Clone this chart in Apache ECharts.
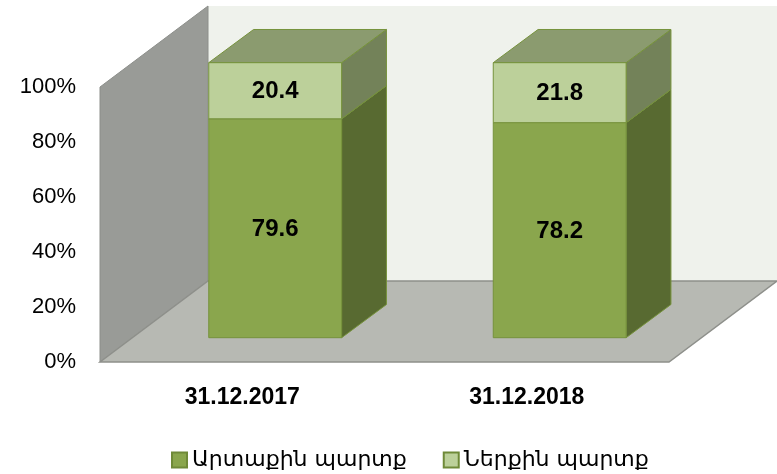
<!DOCTYPE html>
<html>
<head>
<meta charset="utf-8">
<script src="https://cdn.jsdelivr.net/npm/echarts@6/dist/echarts.min.js"></script>
<style>
  html, body { margin: 0; padding: 0; background: #fff; }
  #chart { width: 777px; height: 474px; }
</style>
</head>
<body>
<div id="chart"></div>
<script>
const categories = ['31.12.2017', '31.12.2018'];
const externalDebt = [79.6, 78.2];
const internalDebt = [20.4, 21.8];
const seriesNames = ['Արտաքին պարտք', 'Ներքին պարտք'];
const yTicks = [0, 20, 40, 60, 80, 100];

// 3d depth of the box (px)
const DX = 108, DY = -81;

function wallItem(params, api) {
  let cs = params.coordSys;
  let x = cs.x, y = cs.y, w = cs.width, h = cs.height, b = y + h;
  return {
    type: 'group',
    children: [
      {type: 'rect', shape: {x: x + DX, y: y + DY, width: w, height: h},
        style: {fill: '#EFF2EC'}},
      {type: 'polygon', shape: {points: [[x, y], [x + DX, y + DY], [x + DX, b + DY], [x, b]]},
        style: {fill: '#999B97', stroke: '#8C8E8A', lineWidth: 1}},
      {type: 'polygon', shape: {points: [[x, b], [x + DX, b + DY], [x + w + DX, b + DY], [x + w, b]]},
        style: {fill: '#B7B9B3', stroke: '#8E908B', lineWidth: 1.5}}
    ]
  };
}

function barItem(front, side, top) {
  return function (params, api) {
    let cat = api.value(0), lo = api.value(1), hi = api.value(2);
    let pLo = api.coord([cat, lo]), pHi = api.coord([cat, hi]);
    let w = api.size([1, 0])[0] * 0.467;
    let sx = DX * 0.305, sy = DY * 0.3;
    let bx = DX * 0.415, by = DY * 0.41;
    let x0 = pLo[0] - w / 2 + sx, x1 = x0 + w;
    let yb = pLo[1] + sy, yt = pHi[1] + sy;
    let line = {stroke: '#76923C', lineWidth: 1};
    return {
      type: 'group',
      children: [
        {type: 'polygon', shape: {points: [[x1, yb], [x1 + bx, yb + by], [x1 + bx, yt + by], [x1, yt]]},
          style: Object.assign({fill: side}, line)},
        {type: 'polygon', shape: {points: [[x0, yt], [x0 + bx, yt + by], [x1 + bx, yt + by], [x1, yt]]},
          style: Object.assign({fill: top}, line)},
        {type: 'rect', shape: {x: x0, y: yt, width: w, height: yb - yt},
          style: Object.assign({fill: front}, line)},
        {type: 'text', x: (x0 + x1) / 2, y: (yt + yb) / 2 + 1,
          style: {text: api.value(3).toFixed(1), align: 'center', verticalAlign: 'middle',
            fill: '#000', font: 'bold 24px "Liberation Sans", Arial, sans-serif'}}
      ]
    };
  };
}

let chartDom = document.getElementById('chart');
let myChart = echarts.init(chartDom);
let option = {
  animation: false,
  grid: {left: 100, right: 108, top: 87, bottom: 112},
  legend: {
    data: seriesNames,
    left: 166,
    top: 444,
    icon: 'rect',
    itemWidth: 15,
    itemHeight: 15,
    itemGap: 36,
    textStyle: {fontSize: 22, color: '#000', fontFamily: '"DejaVu Sans", sans-serif'}
  },
  xAxis: {
    type: 'category',
    data: categories,
    axisLine: {show: false},
    axisTick: {show: false},
    axisLabel: {margin: 24, fontSize: 23, fontWeight: 'bold', color: '#000',
      fontFamily: '"Liberation Sans", Arial, sans-serif'}
  },
  yAxis: {
    type: 'value',
    min: yTicks[0],
    max: yTicks[yTicks.length - 1],
    interval: yTicks[1] - yTicks[0],
    splitLine: {show: false},
    axisLine: {show: false},
    axisTick: {show: false},
    axisLabel: {margin: 24, color: '#000',
      formatter: v => '{t|' + v + '%}',
      rich: {t: {fontSize: 22, height: 32, verticalAlign: 'bottom', color: '#000',
        fontFamily: '"Liberation Sans", Arial, sans-serif'}}}
  },
  series: [
    {
      type: 'custom',
      name: 'walls',
      silent: true,
      renderItem: wallItem,
      data: [[0, 0]],
      z: 1
    },
    {
      type: 'custom',
      name: seriesNames[0],
      renderItem: barItem('#8AA64D', '#586A31', '#8A9A6E'),
      itemStyle: {color: '#8AA64D', borderColor: '#6F8A38', borderWidth: 1},
      data: categories.map((c, i) => [i, 0, externalDebt[i], externalDebt[i]]),
      z: 2
    },
    {
      type: 'custom',
      name: seriesNames[1],
      renderItem: barItem('#BCD09A', '#738259', '#8B9B6F'),
      itemStyle: {color: '#BCD09A', borderColor: '#6F8A38', borderWidth: 1},
      data: categories.map((c, i) => [i, externalDebt[i], externalDebt[i] + internalDebt[i], internalDebt[i]]),
      z: 3
    }
  ]
};
option && myChart.setOption(option);
</script>
</body>
</html>
